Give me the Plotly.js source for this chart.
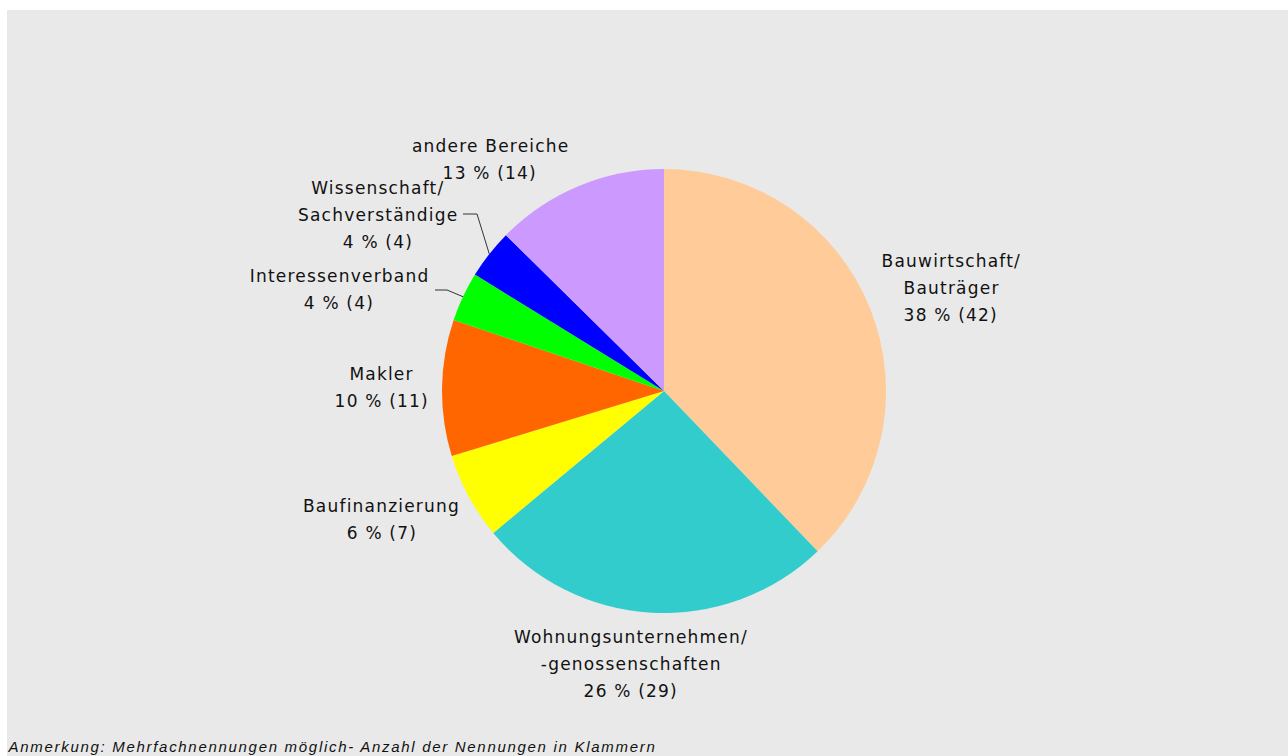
<!DOCTYPE html>
<html>
<head>
<meta charset="utf-8">
<script src="https://cdn.plot.ly/plotly-3.0.1.min.js"></script>
<style>
html, body { margin: 0; padding: 0; background: #ffffff; }
#chart { width: 1288px; height: 756px; }
#chart .annotation-text { letter-spacing: 1.2px; }
</style>
</head>
<body>
<div id="chart"></div>
<script>
// ---- data ----
const categories = [
  "Bauwirtschaft/\nBauträger",
  "Wohnungsunternehmen/\n-genossenschaften",
  "Baufinanzierung",
  "Makler",
  "Interessenverband",
  "Wissenschaft/\nSachverständige",
  "andere Bereiche"
];
const counts = [42, 29, 7, 11, 4, 4, 14];
const colors = ["#FFCC99", "#33CCCC", "#FFFF00", "#FF6600", "#00FF00", "#0000FF", "#CC99FF"];
const note = "Anmerkung: Mehrfachnennungen möglich- Anzahl der Nennungen in Klammern";

// ---- layout constants (pixels in the 1288x756 page) ----
const W = 1288, H = 756;
const cx = 664, cy = 391, R = 222;
// centre of the first text line of every label
const labelPos = [[951, 261], [631, 637], [382, 506], [382, 374], [339, 276], [378, 188], [490, 146]];
const lineStep = 26.8;
// leader lines: [label index, start x, end of horizontal x, y]
const leaders = [[5, 463, 477, 214], [4, 435, 447, 290]];

const px = x => x / W;
const py = y => 1 - y / H;

const total = counts.reduce((a, b) => a + b, 0);
const annotations = [];
categories.forEach((cat, i) => {
  const lines = cat.split("\n");
  lines.push(Math.round(counts[i] / total * 100) + " % (" + counts[i] + ")");
  lines.forEach((ln, j) => {
    annotations.push({
      xref: "paper", yref: "paper",
      x: px(labelPos[i][0]), y: py(labelPos[i][1] + j * lineStep),
      xanchor: "center", yanchor: "middle",
      text: ln, showarrow: false,
      font: { family: "DejaVu Sans, Verdana, sans-serif", size: 17, color: "#111111" }
    });
  });
});
annotations.push({
  xref: "paper", yref: "paper",
  x: px(332), y: py(746), xanchor: "center", yanchor: "middle",
  text: note, showarrow: false,
  font: { family: "Liberation Sans, Arial, sans-serif", size: 15, style: "italic", color: "#111111" }
});

// mid angle of a slice (clockwise from 12 o'clock)
function midPoint(i) {
  let before = 0;
  for (let k = 0; k < i; k++) before += counts[k];
  const a = (before + counts[i] / 2) / total * 2 * Math.PI;
  return [cx + R * Math.sin(a), cy - R * Math.cos(a)];
}

const shapes = [{
  type: "rect", xref: "paper", yref: "paper", layer: "below",
  x0: px(7), x1: 1, y0: 0, y1: py(10),
  fillcolor: "#E9E9E9", line: { width: 0 }
}];
leaders.forEach(([i, x0, x1, y]) => {
  const [ex, ey] = midPoint(i);
  shapes.push({ type: "line", xref: "paper", yref: "paper", x0: px(x0), y0: py(y), x1: px(x1), y1: py(y), line: { color: "#333333", width: 1 } });
  shapes.push({ type: "line", xref: "paper", yref: "paper", x0: px(x1), y0: py(y), x1: px(ex), y1: py(ey), line: { color: "#333333", width: 1 } });
});

const trace = {
  type: "pie",
  labels: categories.map(c => c.replace("\n", " ")),
  values: counts,
  sort: false,
  direction: "clockwise",
  rotation: 0,
  marker: { colors: colors, line: { width: 0 } },
  textinfo: "none",
  hoverinfo: "label+value+percent",
  showlegend: false,
  domain: { x: [px(cx - R), px(cx + R)], y: [py(cy + R), py(cy - R)] }
};

const layout = {
  width: W, height: H,
  margin: { l: 0, r: 0, t: 0, b: 0 },
  paper_bgcolor: "#ffffff",
  showlegend: false,
  shapes: shapes,
  annotations: annotations
};

Plotly.newPlot("chart", [trace], layout, { displayModeBar: false, staticPlot: true }).then(gd => {
  // widen the tracking of the footnote a little more, like the reference
  const texts = gd.querySelectorAll(".annotation-text");
  texts.forEach(t => { if (t.textContent === note) t.style.letterSpacing = "1.7px"; });
});
</script>
</body>
</html>
